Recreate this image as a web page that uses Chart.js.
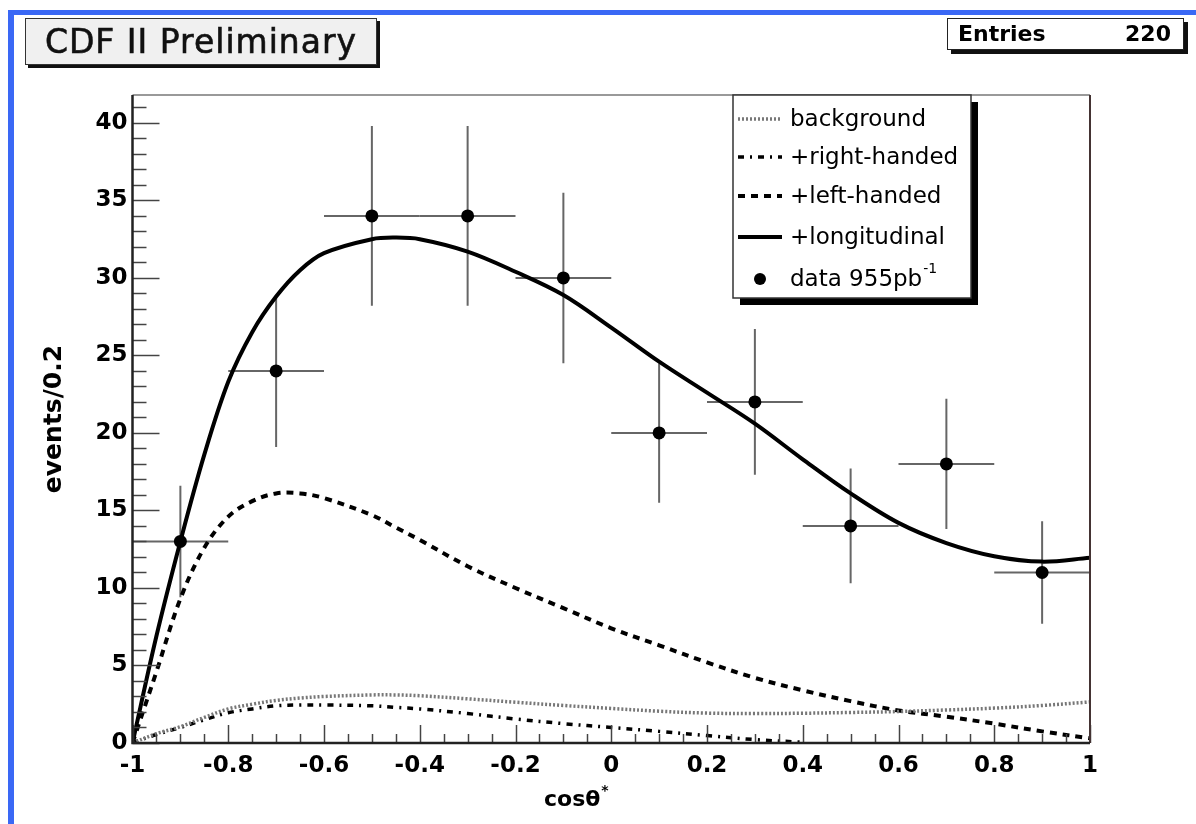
<!DOCTYPE html>
<html>
<head>
<meta charset="utf-8">
<title>CDF II Preliminary - cos theta*</title>
<script src="https://cdn.jsdelivr.net/npm/chart.js@4.4.1/dist/chart.umd.min.js"></script>
<style>
    html, body { margin: 0; padding: 0; background: #fff; }
    #wrap { position: relative; width: 1196px; height: 824px; overflow: hidden; background: #fff; }
    #plot { position: absolute; left: 0; top: 0; }
    .blue-top { position: absolute; left: 8px; top: 10px; width: 1188px; height: 5px; background: #3a68f5; }
    .blue-left { position: absolute; left: 8px; top: 10px; width: 6px; height: 814px; background: #3a68f5; }
    .title-box {
        position: absolute; left: 25px; top: 18px; width: 350px; height: 45px;
        background: #f0f0f0; border: 1px solid #333; box-shadow: 3px 3px 0 #111;
        font: 33px "DejaVu Sans", sans-serif; letter-spacing: 1px; color: #111;
        -webkit-text-stroke: 0.6px #111;
        display: flex; align-items: center; justify-content: center;
    }
    .entries-box {
        position: absolute; left: 947px; top: 18px; width: 235px; height: 30px;
        background: #fff; border: 1.5px solid #222; box-shadow: 4px 4px 0 #111;
        font: bold 22px "DejaVu Sans", sans-serif; color: #000;
    }
    .entries-box .lbl { position: absolute; left: 10px; top: 2px; }
    .entries-box .val { position: absolute; right: 12px; top: 2px; }
</style>
</head>
<body>
<div id="wrap">
    <canvas id="plot" width="1196" height="824"></canvas>
    <div class="blue-top"></div>
    <div class="blue-left"></div>
    <div class="title-box">CDF II Preliminary</div>
    <div class="entries-box"><span class="lbl">Entries</span><span class="val">220</span></div>
</div>
<script>
// ===== DATA =====
// histogram bins (centre of each 0.2 wide bin) and counts
const binCenters = [-0.9, -0.7, -0.5, -0.3, -0.1, 0.1, 0.3, 0.5, 0.7, 0.9];
const binEvents = [13, 24, 34, 34, 30, 20, 22, 14, 18, 11];
const binErrors = [3.6, 4.9, 5.8, 5.8, 5.5, 4.5, 4.7, 3.7, 4.2, 3.3];
const binHalfWidth = 0.1;

// fit curves (stacked contributions)
const curveX = [-1, -0.95, -0.9, -0.85, -0.8, -0.75, -0.7, -0.65, -0.6, -0.5, -0.45, -0.4,
                -0.3, -0.2, -0.1, 0, 0.1, 0.2, 0.3, 0.4, 0.5, 0.6, 0.7, 0.8, 0.9, 1];
const backgroundY = [0, 0.6, 1.05, 1.65, 2.2, 2.5, 2.75, 2.9, 3.0, 3.1, 3.1, 3.05,
                     2.85, 2.63, 2.42, 2.23, 2.05, 1.93, 1.9, 1.92, 1.97, 2.03, 2.13, 2.25, 2.42, 2.65];
const rightHandedY = [0, 0.55, 1.0, 1.5, 1.95, 2.2, 2.4, 2.45, 2.45, 2.4, 2.3, 2.2,
                      1.9, 1.55, 1.25, 1.0, 0.75, 0.48, 0.22, 0.05, null, null, null, null, null, null];
const leftHandedY = [0, 4.6, 9.3, 12.6, 14.6, 15.6, 16.1, 16.1, 15.8, 14.7, 13.9, 13.1,
                     11.4, 10.0, 8.7, 7.4, 6.3, 5.2, 4.2, 3.4, 2.7, 2.1, 1.7, 1.25, 0.75, 0.3];
const longitudinalY = [0, 6.9, 13.0, 18.6, 23.3, 26.5, 28.8, 30.5, 31.6, 32.5, 32.6, 32.5,
                       31.7, 30.4, 28.9, 26.8, 24.6, 22.6, 20.6, 18.3, 16.1, 14.2, 12.9, 12.05, 11.7, 11.95];

// axis ticks
const xTickValues = [-1, -0.8, -0.6, -0.4, -0.2, 0, 0.2, 0.4, 0.6, 0.8, 1];
const yTickValues = [0, 5, 10, 15, 20, 25, 30, 35, 40];
const xRange = [-1, 1];
const yRange = [0, 41.8];

const toPoints = (xs, ys) => xs.map((x, i) => ({ x: x, y: ys[i] })).filter(p => p.y !== null);

// ===== STYLE =====
const TICK_FONT = { family: 'DejaVu Sans', size: 23, weight: 'bold' };
const CURVE_TENSION = 0.35;

// ===== PLUGIN: ROOT style frame, inner ticks, error bars, legend =====
const rootFrame = {
    id: 'rootFrame',
    beforeDatasetsDraw(chart) {
        const { ctx, scales: { x, y } } = chart;
        ctx.save();
        // error bars
        ctx.strokeStyle = '#666';
        ctx.lineWidth = 2;
        binCenters.forEach((c, i) => {
            const px = x.getPixelForValue(c);
            const py = y.getPixelForValue(binEvents[i]);
            ctx.beginPath();
            ctx.moveTo(px, y.getPixelForValue(binEvents[i] - binErrors[i]));
            ctx.lineTo(px, y.getPixelForValue(binEvents[i] + binErrors[i]));
            ctx.moveTo(x.getPixelForValue(c - binHalfWidth), py);
            ctx.lineTo(x.getPixelForValue(c + binHalfWidth), py);
            ctx.stroke();
        });
        ctx.restore();
    },
    afterDraw(chart) {
        const { ctx, chartArea: a, scales: { x, y } } = chart;
        ctx.save();

        // inner ticks
        ctx.strokeStyle = '#444';
        ctx.lineWidth = 1.5;
        for (let v = 0; v <= 41; v++) {
            const py = Math.round(y.getPixelForValue(v)) + 0.5;
            const len = v % 5 === 0 ? 27 : 14;
            ctx.beginPath();
            ctx.moveTo(a.left, py);
            ctx.lineTo(a.left + len, py);
            ctx.stroke();
        }
        for (let k = 0; k <= 40; k++) {
            const v = -1 + k * 0.05;
            const px = Math.round(x.getPixelForValue(v)) + 0.5;
            const len = k % 4 === 0 ? 18 : 9;
            ctx.beginPath();
            ctx.moveTo(px, a.bottom);
            ctx.lineTo(px, a.bottom - len);
            ctx.stroke();
        }

        // frame
        ctx.lineWidth = 1.5;
        ctx.strokeStyle = '#777';
        ctx.beginPath();
        ctx.moveTo(a.left, a.top);
        ctx.lineTo(a.right, a.top);
        ctx.stroke();
        ctx.strokeStyle = '#433';
        ctx.lineWidth = 2;
        ctx.beginPath();
        ctx.moveTo(a.right, a.top);
        ctx.lineTo(a.right, a.bottom);
        ctx.stroke();
        ctx.strokeStyle = '#222';
        ctx.lineWidth = 2.5;
        ctx.beginPath();
        ctx.moveTo(a.left, a.top);
        ctx.lineTo(a.left, a.bottom);
        ctx.lineTo(a.right, a.bottom);
        ctx.stroke();

        // x axis title: cos(theta*)
        ctx.fillStyle = '#000';
        ctx.textBaseline = 'alphabetic';
        ctx.textAlign = 'left';
        ctx.font = 'bold 22px "DejaVu Sans"';
        const xt = 'cosθ';
        const xtw = ctx.measureText(xt).width;
        const xtx = 544;
        ctx.fillText(xt, xtx, 806);
        ctx.font = 'bold 14px "DejaVu Sans"';
        ctx.fillText('*', xtx + xtw + 1, 795);

        // legend
        const lx = 733, ly = 95, lw = 238, lh = 203;
        ctx.fillStyle = '#000';
        ctx.fillRect(lx + 7, ly + 7, lw, lh);
        ctx.fillStyle = '#fff';
        ctx.fillRect(lx, ly, lw, lh);
        ctx.strokeStyle = '#333';
        ctx.lineWidth = 1.5;
        ctx.strokeRect(lx, ly, lw, lh);

        const rowsY = [119, 157, 196, 237, 279];
        const curveSets = chart.data.datasets.filter(d => d.type !== 'scatter');
        ctx.font = '23px "DejaVu Sans"';
        ctx.textBaseline = 'middle';
        curveSets.forEach((d, i) => {
            ctx.save();
            ctx.strokeStyle = d.borderColor;
            ctx.lineWidth = d.borderWidth;
            ctx.setLineDash(d.borderDash || []);
            ctx.beginPath();
            ctx.moveTo(738, rowsY[i]);
            ctx.lineTo(782, rowsY[i]);
            ctx.stroke();
            ctx.restore();
            ctx.fillStyle = '#000';
            ctx.fillText(d.label, 790, rowsY[i] + 1);
        });
        // data marker row
        ctx.beginPath();
        ctx.arc(760, rowsY[4], 6, 0, Math.PI * 2);
        ctx.fill();
        ctx.fillText('data 955pb', 790, rowsY[4] + 1);
        const dw = ctx.measureText('data 955pb').width;
        ctx.font = '14px "DejaVu Sans"';
        ctx.fillText('-1', 790 + dw + 1, rowsY[4] - 10);

        ctx.restore();
    }
};

// ===== CHART =====
new Chart(document.getElementById('plot'), {
    type: 'line',
    data: {
        datasets: [
            {
                type: 'scatter',
                label: 'data 955pb-1',
                data: toPoints(binCenters, binEvents),
                pointRadius: 6.5,
                pointBackgroundColor: '#000',
                pointBorderWidth: 0,
                showLine: false
            },
            {
                label: 'background',
                data: toPoints(curveX, backgroundY),
                borderColor: '#777',
                borderWidth: 3.5,
                borderDash: [2, 2],
                pointRadius: 0,
                tension: CURVE_TENSION
            },
            {
                label: '+right-handed',
                data: toPoints(curveX, rightHandedY),
                borderColor: '#000',
                borderWidth: 3.5,
                borderDash: [6, 6, 2, 6],
                pointRadius: 0,
                tension: CURVE_TENSION
            },
            {
                label: '+left-handed',
                data: toPoints(curveX, leftHandedY),
                borderColor: '#000',
                borderWidth: 4,
                borderDash: [7, 6],
                pointRadius: 0,
                tension: CURVE_TENSION
            },
            {
                label: '+longitudinal',
                data: toPoints(curveX, longitudinalY),
                borderColor: '#000',
                borderWidth: 4,
                pointRadius: 0,
                tension: CURVE_TENSION
            }
        ]
    },
    options: {
        responsive: false,
        animation: false,
        events: [],
        layout: { padding: { left: 0, top: 95, right: 106, bottom: 0 } },
        plugins: {
            legend: { display: false },
            tooltip: { enabled: false }
        },
        scales: {
            x: {
                type: 'linear',
                min: xRange[0],
                max: xRange[1],
                grid: { display: false, drawTicks: false },
                border: { display: false },
                afterBuildTicks: (scale) => { scale.ticks = xTickValues.map(v => ({ value: v })); },
                afterFit: (scale) => { scale.height = 81; scale.paddingLeft = 0; scale.paddingRight = 0; },
                ticks: {
                    autoSkip: false,
                    maxRotation: 0,
                    padding: 9,
                    color: '#000',
                    font: TICK_FONT,
                    callback: (v) => String(Math.round(v * 10) / 10)
                }
            },
            y: {
                min: yRange[0],
                max: yRange[1],
                grid: { display: false, drawTicks: false },
                border: { display: false },
                afterBuildTicks: (scale) => { scale.ticks = yTickValues.map(v => ({ value: v })); },
                afterFit: (scale) => { scale.width = 132.5; scale.paddingTop = 0; scale.paddingBottom = 0; },
                ticks: {
                    autoSkip: false,
                    padding: 5,
                    color: '#000',
                    font: TICK_FONT,
                    callback: (v) => String(v)
                },
                title: {
                    display: true,
                    text: 'events/0.2',
                    color: '#000',
                    font: { family: 'DejaVu Sans', size: 25, weight: 'bold' },
                    padding: { top: 39, bottom: 0 }
                }
            }
        }
    },
    plugins: [rootFrame]
});
</script>
</body>
</html>
